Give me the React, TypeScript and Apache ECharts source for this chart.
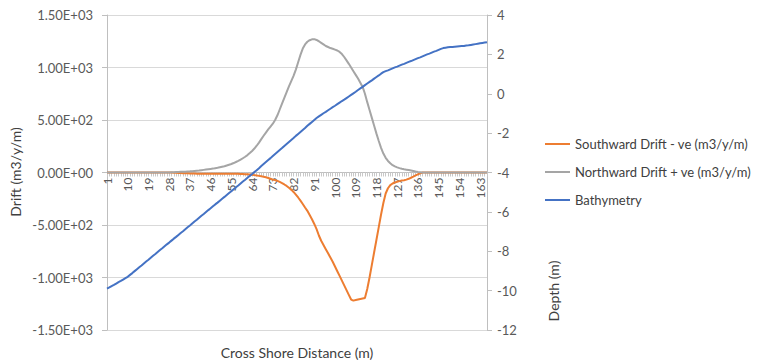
import React, { useEffect, useRef } from "react";
import * as echarts from "echarts";

const categories: string[] = Array.from({ length: 166 }, (_, i) => String(i + 1));

const southward: number[] = [
  0, 0, 0, 0, 0, 0, 0, 0, 0, 0,
  0, 0, 0, 0, 0, 0, 0, 0, 0, 0,
  0, 0, 0, 0, 0, 0, 0, 0, 0, -2,
  -3, -4, -5, -6, -7, -8, -9, -10, -10, -11,
  -11, -11, -12, -12, -12, -12, -12, -12, -12, -12,
  -12, -12, -12, -12, -12, -13, -13, -13, -14, -15,
  -16, -17, -19, -22, -25, -28, -32, -36, -40, -45,
  -52, -60, -68, -71, -80, -90, -101, -114, -128, -145,
  -163, -185, -210, -238, -268, -300, -333, -365, -405, -445,
  -490, -540, -600, -650, -690, -730, -770, -810, -850, -895,
  -940, -985, -1030, -1075, -1120, -1165, -1210, -1220, -1215, -1210,
  -1205, -1200, -1195, -1110, -1000, -880, -760, -640, -520, -400,
  -290, -200, -150, -120, -105, -95, -88, -82, -77, -73,
  -68, -60, -50, -40, -28, -17, -8, 0, 0, 0,
  0, 0, 0, 0, 0, 0, 0, 0, 0, 0,
  0, 0, 0, 0, 0, 0, 0, 0, 0, 0,
  0, 0, 0, 0, 0, 0,
];

const northward: number[] = [
  0, 0, 0, 0, 0, 0, 0, 0, 0, 0,
  0, 0, 0, 0, 0, 0, 0, 0, 0, 0,
  0, 0, 0, 0, 0, 0, 0, 1, 2, 3,
  4, 5, 6, 7, 8, 10, 11, 13, 15, 17,
  19, 22, 25, 28, 31, 34, 37, 41, 45, 50,
  55, 60, 67, 74, 81, 90, 100, 110, 122, 136,
  150, 166, 185, 205, 228, 255, 285, 318, 350, 380,
  410, 438, 465, 500, 545, 600, 655, 710, 765, 820,
  870, 920, 980, 1050, 1120, 1180, 1220, 1245, 1260, 1268,
  1270, 1262, 1250, 1235, 1220, 1205, 1195, 1185, 1178, 1170,
  1162, 1148, 1128, 1100, 1068, 1035, 1000, 965, 930, 895,
  855, 815, 750, 670, 595, 520, 445, 370, 300, 235,
  180, 140, 110, 88, 70, 58, 49, 42, 36, 31,
  27, 23, 19, 15, 10, 6, 3, 0, 0, 0,
  0, 0, 0, 0, 0, 0, 0, 0, 0, 0,
  0, 0, 0, 0, 0, 0, 0, 0, 0, 0,
  0, 0, 0, 0, 0, 0,
];

const bathymetry: number[] = [
  -9.9, -9.84, -9.77, -9.71, -9.64, -9.57, -9.51, -9.44, -9.37, -9.3,
  -9.2, -9.11, -9.01, -8.91, -8.81, -8.72, -8.62, -8.52, -8.43, -8.33,
  -8.23, -8.14, -8.04, -7.94, -7.85, -7.75, -7.65, -7.56, -7.46, -7.36,
  -7.27, -7.17, -7.07, -6.98, -6.88, -6.78, -6.69, -6.59, -6.49, -6.4,
  -6.3, -6.2, -6.11, -6.01, -5.91, -5.82, -5.72, -5.62, -5.53, -5.43,
  -5.33, -5.24, -5.14, -5.04, -4.95, -4.85, -4.75, -4.66, -4.56, -4.46,
  -4.37, -4.27, -4.17, -4.08, -3.98, -3.88, -3.78, -3.67, -3.57, -3.47,
  -3.37, -3.27, -3.16, -3.06, -2.96, -2.86, -2.76, -2.65, -2.55, -2.45,
  -2.35, -2.25, -2.14, -2.04, -1.94, -1.84, -1.74, -1.63, -1.53, -1.43,
  -1.33, -1.23, -1.15, -1.07, -0.99, -0.92, -0.84, -0.76, -0.68, -0.61,
  -0.53, -0.45, -0.37, -0.3, -0.22, -0.14, -0.06, 0.02, 0.1, 0.19,
  0.27, 0.35, 0.44, 0.52, 0.6, 0.68, 0.77, 0.85, 0.93, 1.02,
  1.1, 1.15, 1.19, 1.24, 1.29, 1.34, 1.38, 1.43, 1.48, 1.52,
  1.57, 1.62, 1.66, 1.71, 1.76, 1.81, 1.85, 1.9, 1.95, 2.0,
  2.04, 2.09, 2.14, 2.18, 2.23, 2.28, 2.32, 2.34, 2.36, 2.37,
  2.38, 2.39, 2.4, 2.41, 2.42, 2.43, 2.45, 2.46, 2.48, 2.5,
  2.52, 2.54, 2.56, 2.58, 2.6, 2.62,
];

const seriesNames = [
  "Southward Drift - ve (m3/y/m)",
  "Northward Drift + ve (m3/y/m)",
  "Bathymetry",
];

const FONT = "Lato, 'Open Sans', sans-serif";

function sci(v: number): string {
  if (v === 0) return "0.00E+00";
  const sign = v < 0 ? "-" : "";
  const a = Math.abs(v);
  const e = Math.floor(Math.log10(a));
  const m = a / Math.pow(10, e);
  const es = (e < 0 ? "-" : "+") + String(Math.abs(e)).padStart(2, "0");
  return sign + m.toFixed(2) + "E" + es;
}

export default function App() {
  const ref = useRef<HTMLDivElement>(null);
  useEffect(() => {
    if (!ref.current) return;
    const chart = echarts.init(ref.current, undefined, { renderer: "svg" });
    chart.setOption({
      animation: false,
      backgroundColor: "#ffffff",
      textStyle: { fontFamily: FONT },
      grid: { left: 107, right: 275, top: 15, bottom: 34, containLabel: false },
      legend: {
        orient: "vertical",
        left: 540,
        top: 131,
        icon: "rect",
        itemWidth: 25,
        itemHeight: 2,
        itemGap: 12,
        data: seriesNames,
        textStyle: { fontFamily: FONT, fontSize: 13, color: "#404040", lineHeight: 16 },
      },
      xAxis: {
        type: "category",
        data: categories,
        boundaryGap: false,
        offset: -157.5,
        axisLine: { onZero: false, lineStyle: { color: "#bfbfbf", width: 1 } },
        axisTick: { show: true, interval: 0, length: 4, lineStyle: { color: "#c8c8c8" } },
        axisLabel: {
          interval: 8,
          rotate: 90,
          margin: 5,
          fontSize: 12,
          fontFamily: FONT,
          color: "#595959",
        },
        splitLine: { show: false },
      },
      yAxis: [
        {
          type: "value",
          min: -1500,
          max: 1500,
          interval: 500,
          axisLine: { show: true, lineStyle: { color: "#bfbfbf" } },
          axisTick: { show: true, length: 5, lineStyle: { color: "#bfbfbf" } },
          axisLabel: {
            formatter: (v: number) => sci(v),
            margin: 14,
            fontSize: 13,
            fontFamily: FONT,
            color: "#595959",
          },
          splitLine: { show: true, lineStyle: { color: "#d9d9d9", width: 1 } },
        },
        {
          type: "value",
          min: -12,
          max: 4,
          interval: 2,
          position: "right",
          axisLine: { show: true, lineStyle: { color: "#bfbfbf" } },
          axisTick: { show: true, length: 5, lineStyle: { color: "#bfbfbf" } },
          axisLabel: { margin: 10, fontSize: 13, fontFamily: FONT, color: "#595959" },
          splitLine: { show: false },
        },
      ],
      graphic: [
        {
          type: "text",
          x: 297,
          y: 352,
          style: {
            text: "Cross Shore Distance (m)",
            fontSize: 14,
            fontFamily: FONT,
            fill: "#404040",
            align: "center",
            verticalAlign: "middle",
          },
        },
        {
          type: "text",
          x: 15,
          y: 172,
          rotation: Math.PI / 2,
          style: {
            text: "Drift (m3/y/m)",
            fontSize: 14,
            fontFamily: FONT,
            fill: "#404040",
            align: "center",
            verticalAlign: "middle",
          },
        },
        {
          type: "text",
          x: 553,
          y: 291,
          rotation: Math.PI / 2,
          style: {
            text: "Depth (m)",
            fontSize: 14,
            fontFamily: FONT,
            fill: "#404040",
            align: "center",
            verticalAlign: "middle",
          },
        },
      ],
      series: [
        {
          name: seriesNames[0],
          type: "line",
          data: southward,
          yAxisIndex: 0,
          symbol: "none",
          lineStyle: { color: "#ED7D31", width: 2 },
          itemStyle: { color: "#ED7D31" },
        },
        {
          name: seriesNames[1],
          type: "line",
          data: northward,
          yAxisIndex: 0,
          symbol: "none",
          lineStyle: { color: "#A5A5A5", width: 2 },
          itemStyle: { color: "#A5A5A5" },
        },
        {
          name: seriesNames[2],
          type: "line",
          data: bathymetry,
          yAxisIndex: 1,
          symbol: "none",
          lineStyle: { color: "#4472C4", width: 2 },
          itemStyle: { color: "#4472C4" },
        },
      ],
    });
    return () => chart.dispose();
  }, []);
  return (
    <div
      ref={ref}
      style={{ position: "fixed", left: 0, top: 0, width: 762, height: 364 }}
    />
  );
}
